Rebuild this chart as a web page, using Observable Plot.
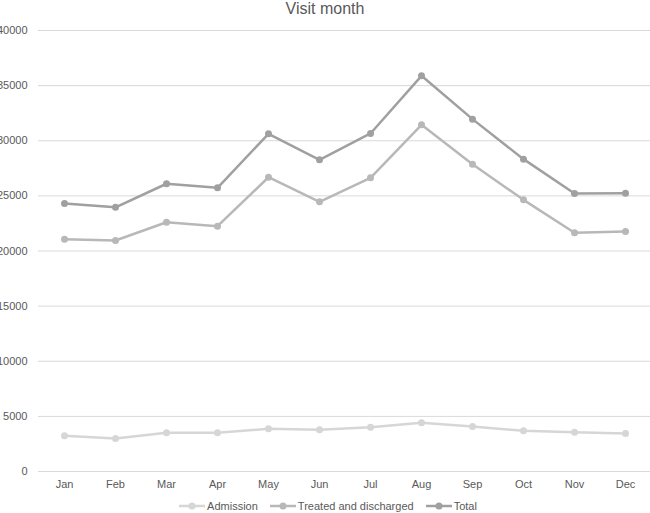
<!DOCTYPE html>
<html>
<head>
<meta charset="utf-8">
<script src="https://cdn.jsdelivr.net/npm/d3@7"></script>
<script src="https://cdn.jsdelivr.net/npm/@observablehq/plot@0.6"></script>
<style>
  html, body { margin: 0; padding: 0; background: #fff; overflow: hidden; }
  body { width: 650px; height: 513px; font-family: "Liberation Sans", Arial, sans-serif; }
  #title { height: 18px; line-height: 18px; text-align: center; font-size: 16px; color: #595959; }
  #chart svg { display: block; }
  #legend { display: flex; justify-content: center; align-items: center; gap: 12px; font-size: 11px; color: #595959; height: 15px; margin-top: 0px; padding-left: 6px; }
  #legend .item { display: flex; align-items: center; gap: 2px; }
</style>
</head>
<body>
<div id="title">Visit month</div>
<div id="chart"></div>
<div id="legend"></div>
<script>
const months = ["Jan","Feb","Mar","Apr","May","Jun","Jul","Aug","Sep","Oct","Nov","Dec"];
const seriesNames = ["Admission", "Treated and discharged", "Total"];
const admission = [3240, 2990, 3510, 3510, 3870, 3780, 4020, 4420, 4080, 3690, 3570, 3450];
const treated   = [21070, 20950, 22610, 22250, 26690, 24460, 26640, 31450, 27870, 24640, 21650, 21770];
const total     = [24310, 23960, 26100, 25730, 30630, 28270, 30660, 35890, 31960, 28330, 25220, 25240];
const yTicks = [0, 5000, 10000, 15000, 20000, 25000, 30000, 35000, 40000];
const colors = ["#d6d6d6", "#b8b8b8", "#a0a0a0"];

const valuesBySeries = [admission, treated, total];
const data = [];
seriesNames.forEach((s, i) => months.forEach((m, j) => data.push({series: s, month: m, value: valuesBySeries[i][j]})));

const chart = Plot.plot({
  width: 650,
  height: 480,
  marginTop: 12,
  marginBottom: 27,
  marginLeft: 38,
  marginRight: 0,
  style: {fontFamily: "'Liberation Sans', Arial, sans-serif", fontSize: "11px", color: "#595959", background: "#fff", overflow: "visible"},
  x: {type: "point", domain: months, padding: 0.5, label: null},
  y: {domain: [0, 40000], label: null, axis: null},
  color: {domain: seriesNames, range: colors},
  marks: [
    Plot.gridY(yTicks, {stroke: "#d9d9d9", strokeOpacity: 1, strokeWidth: 1}),
    Plot.text(yTicks, {y: d => d, text: d => String(d), frameAnchor: "left", textAnchor: "end", dx: -11, fill: "#595959", fontSize: 11}),
    Plot.axisX({tickSize: 0, tickPadding: 9, fill: "#595959", fontSize: 11}),
    Plot.line(data, {x: "month", y: "value", z: "series", stroke: "series", strokeWidth: 2.5}),
    Plot.dot(data, {x: "month", y: "value", fill: "series", r: 3.5, stroke: null})
  ]
});
document.getElementById("chart").appendChild(chart);

const legend = document.getElementById("legend");
seriesNames.forEach((s, i) => {
  const item = document.createElement("div");
  item.className = "item";
  const ns = "http://www.w3.org/2000/svg";
  const sw = document.createElementNS(ns, "svg");
  sw.setAttribute("width", 26); sw.setAttribute("height", 10);
  const ln = document.createElementNS(ns, "line");
  ln.setAttribute("x1", 0); ln.setAttribute("x2", 26); ln.setAttribute("y1", 5); ln.setAttribute("y2", 5);
  ln.setAttribute("stroke", colors[i]); ln.setAttribute("stroke-width", 2.5);
  const c = document.createElementNS(ns, "circle");
  c.setAttribute("cx", 13); c.setAttribute("cy", 5); c.setAttribute("r", 3.5); c.setAttribute("fill", colors[i]);
  sw.appendChild(ln); sw.appendChild(c);
  const t = document.createElement("span");
  t.textContent = s;
  item.appendChild(sw); item.appendChild(t);
  legend.appendChild(item);
});
</script>
</body>
</html>
